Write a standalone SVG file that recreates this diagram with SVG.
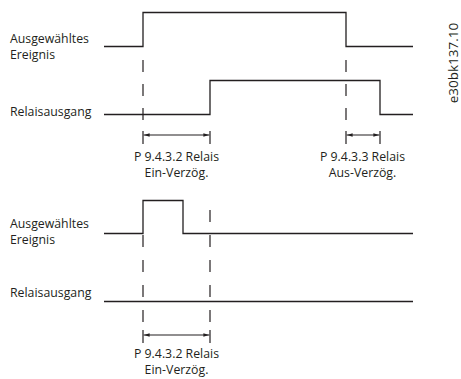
<svg xmlns="http://www.w3.org/2000/svg" width="461" height="379" viewBox="0 0 461 379">
<style>
.sig{fill:none;stroke:#231f20;stroke-width:1.3}
.dash{fill:none;stroke:#231f20;stroke-width:1.2;stroke-dasharray:12 12}
.tick{fill:none;stroke:#231f20;stroke-width:1.2}
.arr{fill:none;stroke:#231f20;stroke-width:1.2;marker-start:url(#ah);marker-end:url(#ah)}
text{font-family:"Open Sans","Noto Sans",sans-serif;font-size:12.3px;fill:#231f20}
.c{text-anchor:middle}
</style>
<defs>
<marker id="ah" viewBox="0 0 10 6" refX="10" refY="3" markerWidth="6" markerHeight="3.6" markerUnits="userSpaceOnUse" orient="auto-start-reverse">
<path d="M0,0 L10,3 L0,6 z" fill="#231f20"/>
</marker>
</defs>
<rect width="461" height="379" fill="#ffffff"/>
<g id="labels-top">
<text x="10" y="43">Ausgewähltes</text>
<text x="10" y="59">Ereignis</text>
<text x="10" y="116">Relaisausgang</text>
</g>
<g id="labels-bottom">
<text x="10" y="228">Ausgewähltes</text>
<text x="10" y="244">Ereignis</text>
<text x="10" y="297">Relaisausgang</text>
</g>
<g id="signal-event-1">
<polyline class="sig" points="104,46.5 143,46.5 143,12.5 346,12.5 346,46.5 413,46.5"/>
</g>
<g id="signal-relay-1">
<polyline class="sig" points="104,114.5 210,114.5 210,80.5 380,80.5 380,114.5 413,114.5"/>
</g>
<g id="signal-event-2">
<polyline class="sig" points="104,233.5 143,233.5 143,200.5 183,200.5 183,233.5 413,233.5"/>
</g>
<g id="signal-relay-2">
<polyline class="sig" points="104,301.5 413,301.5"/>
</g>
<g id="connectors">
<line class="dash" x1="143" y1="60" x2="143" y2="121"/>
<line class="dash" x1="346" y1="60" x2="346" y2="121"/>
<line class="tick" x1="143" y1="131" x2="143" y2="144"/>
<line class="tick" x1="210" y1="131" x2="210" y2="144"/>
<line class="tick" x1="346" y1="131" x2="346" y2="144"/>
<line class="tick" x1="380" y1="131" x2="380" y2="144"/>
<line class="arr" x1="143.6" y1="135" x2="209.4" y2="135"/>
<line class="arr" x1="346.6" y1="135" x2="379.4" y2="135"/>
<line class="dash" x1="143" y1="235" x2="143" y2="322" style="stroke-dasharray:12 13"/>
<line class="dash" x1="210" y1="210" x2="210" y2="322" style="stroke-dasharray:12 13"/>
<line class="tick" x1="143" y1="330" x2="143" y2="343"/>
<line class="tick" x1="210" y1="330" x2="210" y2="343"/>
<line class="arr" x1="143.6" y1="335" x2="209.4" y2="335"/>
</g>
<g id="delay-labels">
<text class="c" x="176.5" y="161">P 9.4.3.2 Relais</text>
<text class="c" x="176.5" y="177">Ein-Verzög.</text>
<text class="c" x="362.5" y="161">P 9.4.3.3 Relais</text>
<text class="c" x="362.5" y="177">Aus-Verzög.</text>
<text class="c" x="176.5" y="358">P 9.4.3.2 Relais</text>
<text class="c" x="176.5" y="374">Ein-Verzög.</text>
</g>
<text transform="translate(458,63) rotate(-90)" class="c" style="font-size:13.5px">e30bk137.10</text>
</svg>
